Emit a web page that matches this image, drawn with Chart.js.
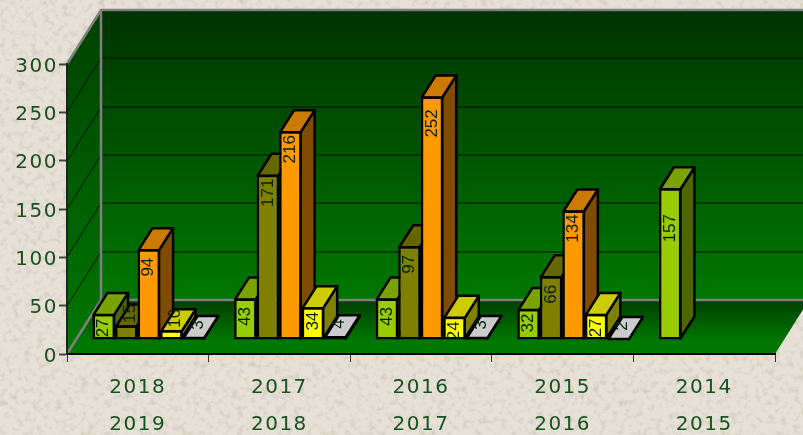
<!DOCTYPE html>
<html>
<head>
<meta charset="utf-8">
<title>Chart</title>
<script src="https://cdn.jsdelivr.net/npm/chart.js@4"></script>
<style>
  html, body { margin: 0; padding: 0; width: 803px; height: 435px; overflow: hidden; }
  body {
    background-color: #e7e0d6;
    background-image: url("data:image/svg+xml,%3Csvg xmlns='http://www.w3.org/2000/svg' width='803' height='435'%3E%3Cfilter id='n' x='0' y='0' width='100%25' height='100%25'%3E%3CfeTurbulence type='fractalNoise' baseFrequency='0.16' numOctaves='3' seed='7'/%3E%3CfeColorMatrix values='0 0 0 0 0.55 0 0 0 0 0.5 0 0 0 0 0.43 1.5 0 0 0 -0.72'/%3E%3C/filter%3E%3Crect width='803' height='435' filter='url(%23n)'/%3E%3C/svg%3E");
  }
  canvas { display: block; }
</style>
</head>
<body>
<canvas id="grafico" width="803" height="435"></canvas>
<script>
const categorias = [["2018", "2019"], ["2017", "2018"], ["2016", "2017"], ["2015", "2016"], ["2014", "2015"]];
const serieVerde = [27, 43, 43, 32, 157];
const serieOliva = [15, 171, 97, 66, null];
const serieNaranja = [94, 216, 252, 134, null];
const serieAmarilla = [10, 34, 24, 27, null];
const serieBlanca = [3, 4, 3, 2, null];
const ticksY = [0, 50, 100, 150, 200, 250, 300];

const colorTexto = "#17521f";
const fuenteEjes = "'DejaVu Sans'";

// profundidad de las paredes y de cada barra
const fondoX = 34, fondoY = -54;
const suelo = { x: 11, y: -14 };
const barraX = 14, barraY = -22;

function oscurecer(hex, f)
{
  let n = parseInt(hex.slice(1), 16);
  let r = Math.round((n >> 16) * f), g = Math.round(((n >> 8) & 255) * f), b = Math.round((n & 255) * f);
  return "rgb(" + r + "," + g + "," + b + ")";
}

function poligono(ctx, puntos, relleno, borde, grosor)
{
  ctx.beginPath();
  puntos.forEach((p, i) => i ? ctx.lineTo(p[0], p[1]) : ctx.moveTo(p[0], p[1]));
  ctx.closePath();
  if(relleno) { ctx.fillStyle = relleno; ctx.fill(); }
  if(borde) { ctx.strokeStyle = borde; ctx.lineWidth = grosor; ctx.lineJoin = "round"; ctx.stroke(); }
}

const caja3d = {
  id: "caja3d",

  // paredes y suelo
  beforeDraw(chart)
  {
    let ctx = chart.ctx, a = chart.chartArea, y = chart.scales.y;
    let fin = a.right + fondoX;
    ctx.save();

    let gFondo = ctx.createLinearGradient(0, a.top + fondoY, 0, a.bottom + fondoY);
    gFondo.addColorStop(0, "#003300");
    gFondo.addColorStop(1, "#007800");
    poligono(ctx, [[a.left + fondoX, a.top + fondoY], [fin, a.top + fondoY], [fin, a.bottom + fondoY], [a.left + fondoX, a.bottom + fondoY]], gFondo);

    let gIzq = ctx.createLinearGradient(0, a.top + fondoY, 0, a.bottom);
    gIzq.addColorStop(0, "#004000");
    gIzq.addColorStop(1, "#007800");
    poligono(ctx, [[a.left, a.top], [a.left + fondoX, a.top + fondoY], [a.left + fondoX, a.bottom + fondoY], [a.left, a.bottom]], gIzq);

    let gSuelo = ctx.createLinearGradient(0, a.bottom + fondoY, 0, a.bottom - 12);
    gSuelo.addColorStop(0, "#003f00");
    gSuelo.addColorStop(1, "#007800");
    poligono(ctx, [[a.left, a.bottom], [a.right, a.bottom], [fin, a.bottom + fondoY], [a.left + fondoX, a.bottom + fondoY]], gSuelo);

    // lineas de la rejilla
    ctx.strokeStyle = "#001000";
    ctx.lineWidth = 1;
    ticksY.slice(1, -1).forEach(v =>
    {
      let py = Math.round(y.getPixelForValue(v));
      ctx.beginPath();
      ctx.moveTo(a.left, py);
      ctx.lineTo(a.left + fondoX, py + fondoY);
      ctx.lineTo(fin, py + fondoY);
      ctx.stroke();
    });

    // marco gris
    ctx.strokeStyle = "#808080";
    ctx.lineWidth = 2.5;
    ctx.beginPath();
    ctx.moveTo(a.left, a.top);
    ctx.lineTo(a.left + fondoX, a.top + fondoY);
    ctx.lineTo(fin, a.top + fondoY);
    ctx.moveTo(a.left + fondoX, a.top + fondoY);
    ctx.lineTo(a.left + fondoX, a.bottom + fondoY);
    ctx.lineTo(fin, a.bottom + fondoY);
    ctx.moveTo(a.left + fondoX, a.bottom + fondoY);
    ctx.lineTo(a.left, a.bottom);
    ctx.stroke();
    ctx.restore();

    // separacion entre digitos de los ejes, se quita al pintar las etiquetas
    ctx.letterSpacing = "1.5px";
  },

  // Chart.js pinta del ultimo dataset al primero, aqui hace falta al reves
  beforeDatasetDraw()
  {
    return false;
  },

  beforeDatasetsDraw(chart)
  {
    let ctx = chart.ctx;
    ctx.save();
    ctx.translate(suelo.x, suelo.y);
    chart.data.datasets.forEach((ds, d) =>
    {
      chart.getDatasetMeta(d).data.forEach((bar, i) =>
      {
        if(ds.data[i] == null) return;
        let izq = bar.x - bar.width / 2 + 1, der = bar.x + bar.width / 2 - 1;
        let arriba = bar.y + 1, abajo = bar.base - 1;
        poligono(ctx, [[der, arriba], [der + barraX, arriba + barraY], [der + barraX, abajo + barraY], [der, abajo]], oscurecer(ds.backgroundColor, 0.5), "#000", 2.5);
        poligono(ctx, [[izq, arriba], [der, arriba], [der + barraX, arriba + barraY], [izq + barraX, arriba + barraY]], oscurecer(ds.backgroundColor, 0.8), "#000", 2.5);
        bar.draw(ctx);
      });
    });
    ctx.restore();
  },

  // etiquetas giradas con el valor
  afterDatasetsDraw(chart)
  {
    let ctx = chart.ctx;
    const bajada = { 157: 40, 252: 27 };
    ctx.save();
    ctx.letterSpacing = "0px";
    ctx.font = "17px 'Liberation Sans Narrow', 'Liberation Sans'";
    ctx.textAlign = "center";
    ctx.textBaseline = "middle";
    ctx.fillStyle = "#04200a";
    chart.data.datasets.forEach((ds, d) =>
    {
      chart.getDatasetMeta(d).data.forEach((bar, i) =>
      {
        let v = ds.data[i];
        if(v == null) return;
        let x = bar.x + suelo.x, y = bar.y + suelo.y;
        if(v < 20) { x += 4; y -= 12; }
        else { y += bajada[v] || (v < 40 ? 14 : 18); }
        ctx.save();
        ctx.translate(x, y);
        ctx.rotate(-Math.PI / 2);
        ctx.fillText(String(v), 0, 0);
        ctx.restore();
      });
    });
    ctx.restore();
  }
};

function serie(datos, color)
{
  return {
    data: datos,
    backgroundColor: color,
    borderColor: "#000",
    borderWidth: 2.5,
    borderSkipped: false,
    categoryPercentage: 0.795,
    barPercentage: 1
  };
}

new Chart(document.getElementById("grafico"), {
  type: "bar",
  data: {
    labels: categorias,
    datasets: [
      serie(serieVerde, "#99cc00"),
      serie(serieOliva, "#808000"),
      serie(serieNaranja, "#ff9900"),
      serie(serieAmarilla, "#ffff00"),
      serie(serieBlanca, "#ffffff")
    ]
  },
  options: {
    responsive: false,
    animation: false,
    layout: { autoPadding: false, padding: { top: 64, right: 28 } },
    plugins: { legend: { display: false }, tooltip: { enabled: false } },
    scales: {
      x: {
        afterFit: (s) => { s.height = 81; },
        grid: { drawOnChartArea: false, tickLength: 8, tickColor: "#333", tickWidth: 1 },
        border: { color: "#000", width: 2 },
        ticks: {
          color: colorTexto,
          padding: 7,
          maxRotation: 0,
          font: { family: fuenteEjes, size: 20, lineHeight: 1.85 }
        }
      },
      y: {
        min: 0,
        max: 300,
        afterFit: (s) => { s.width = 67; },
        grid: { drawOnChartArea: false, tickLength: 8, tickColor: "#444", tickWidth: 2 },
        border: { color: "#222", width: 2 },
        afterBuildTicks: (s) => { s.ticks = ticksY.map(v => ({ value: v })); },
        ticks: {
          color: colorTexto,
          padding: 1,
          // la primera linea vacia baja el numero un par de pixeles
          callback: (v) => ["", String(v)],
          font: { family: fuenteEjes, size: 20, lineHeight: "5px" }
        }
      }
    }
  },
  plugins: [caja3d]
});
</script>
</body>
</html>
